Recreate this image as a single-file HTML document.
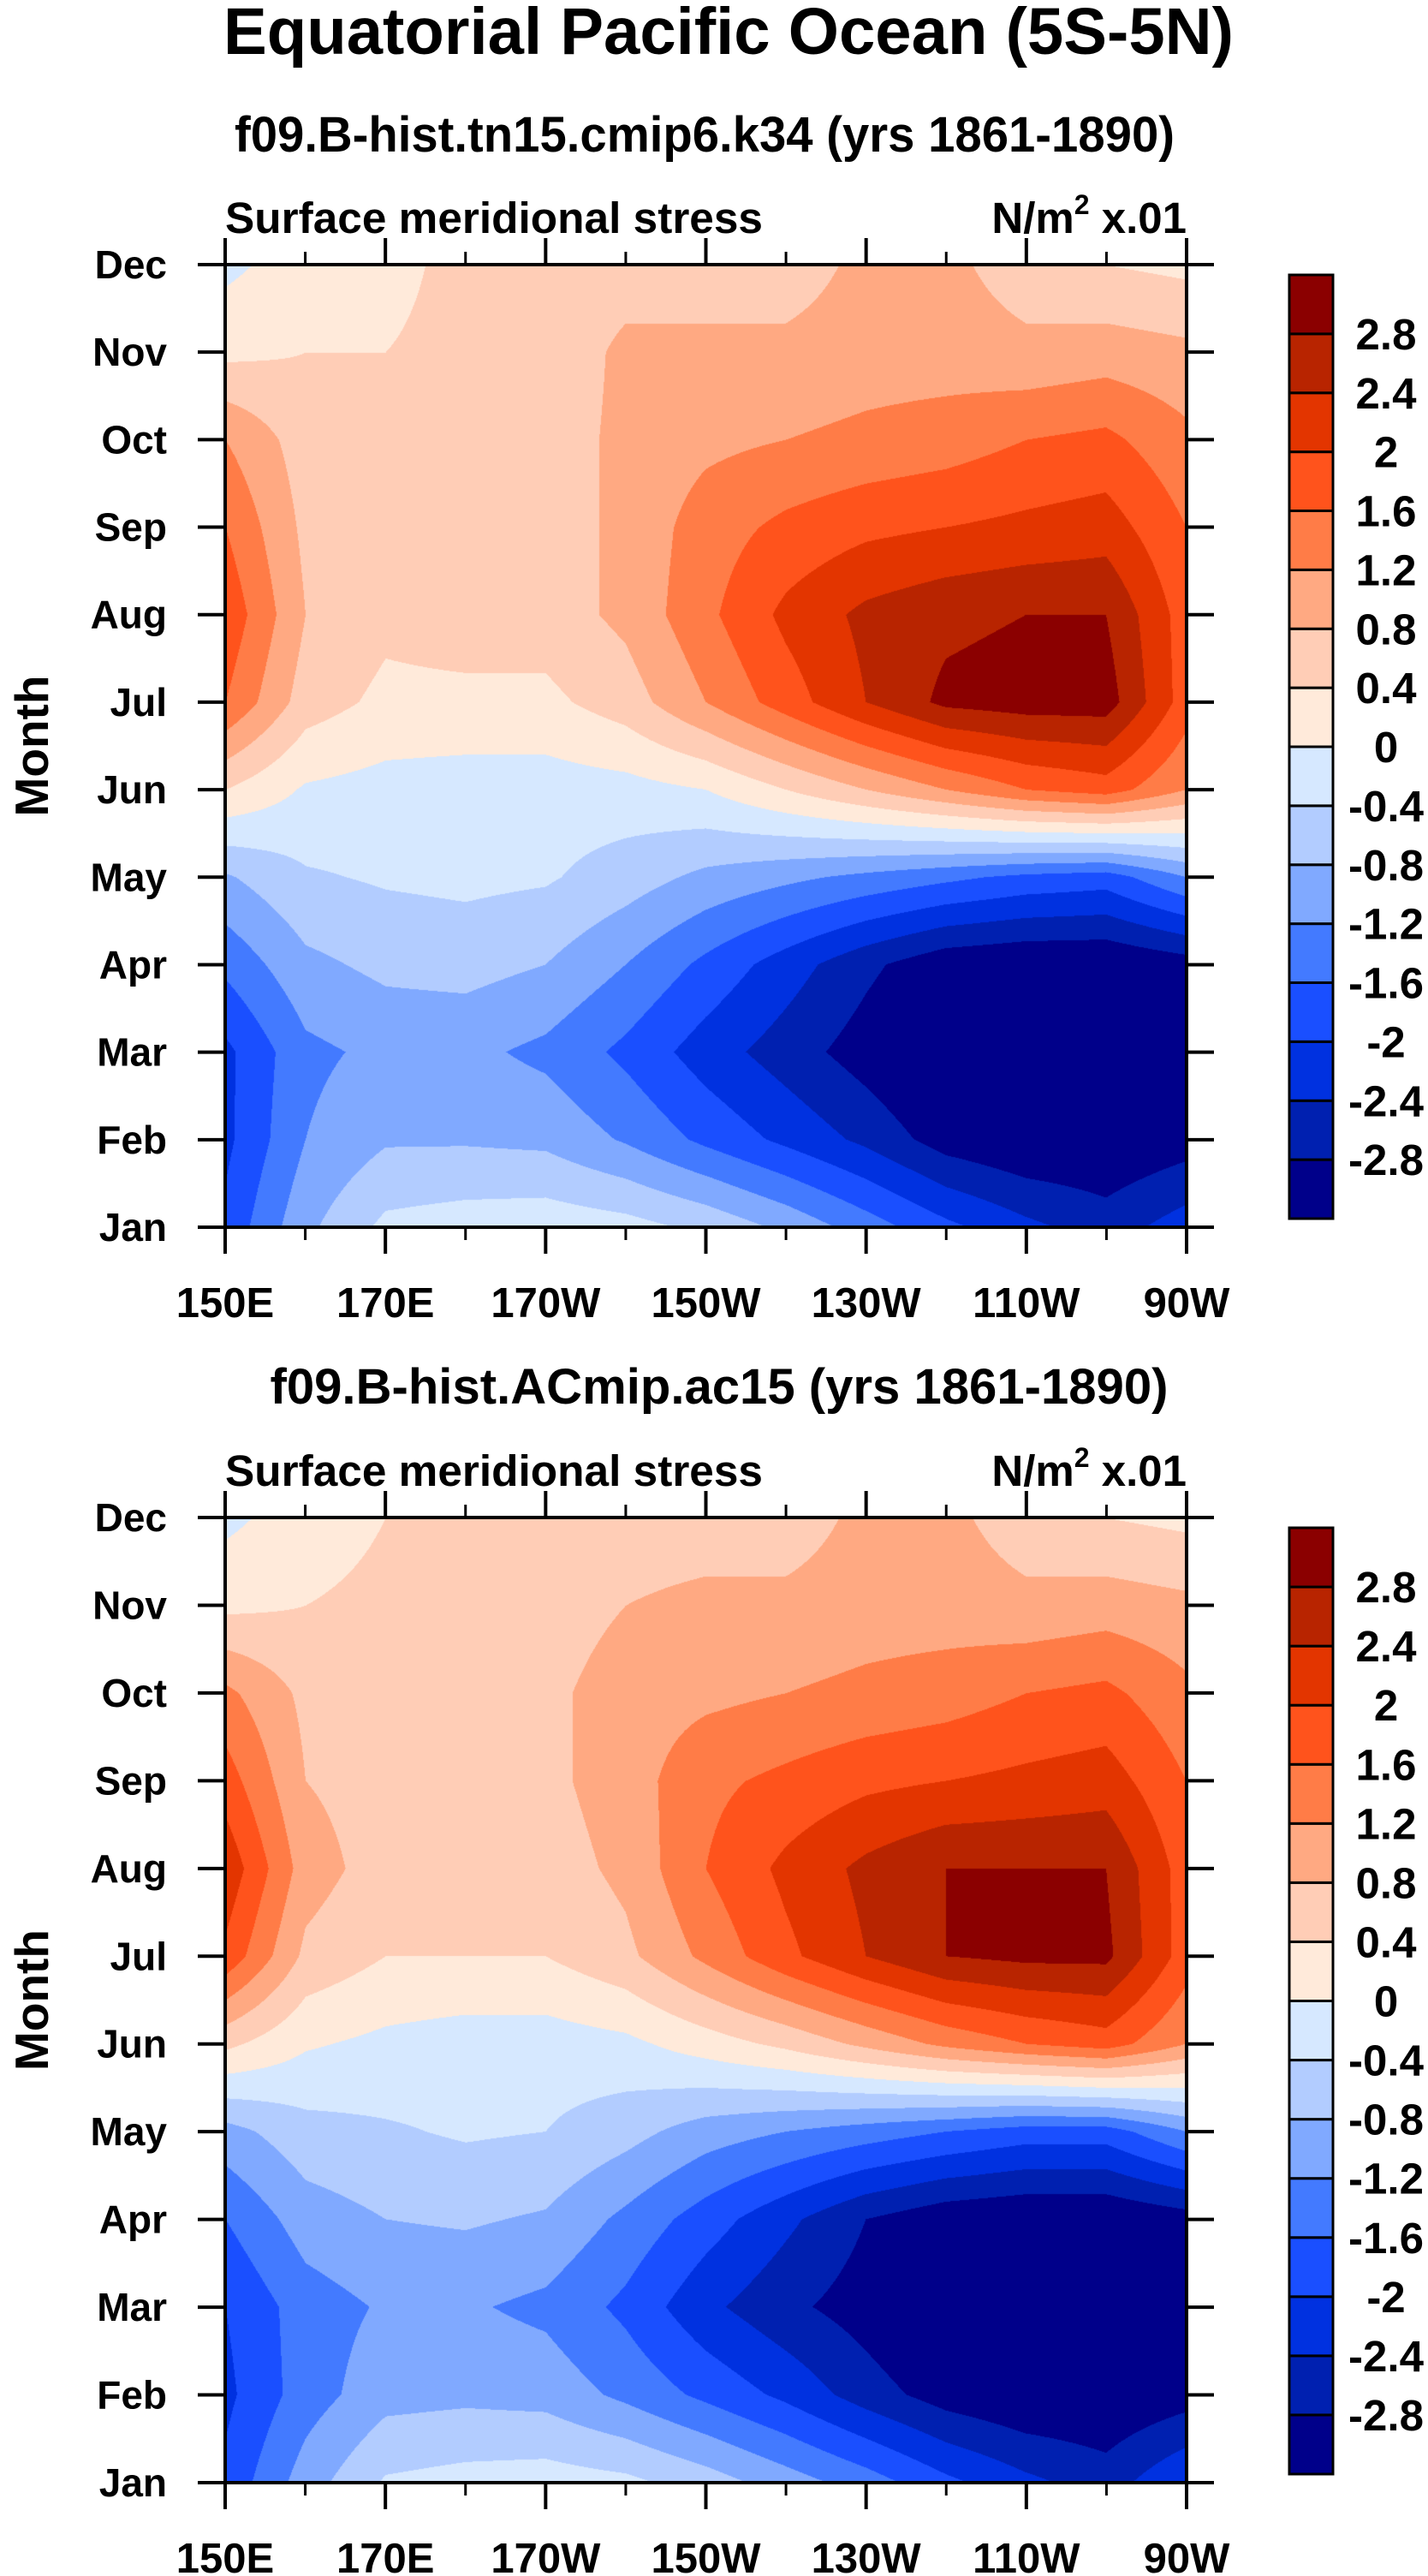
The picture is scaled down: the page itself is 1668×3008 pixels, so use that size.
<!DOCTYPE html>
<html><head><meta charset="utf-8"><style>
html,body{margin:0;padding:0;background:#fff;}
#root{position:relative;width:1668px;height:3008px;overflow:hidden;}
canvas{position:absolute;}
svg{position:absolute;left:0;top:0;}
</style></head><body>
<div id="root">
<canvas id="c1" width="1123" height="1124" style="left:263px;top:309px"></canvas>
<canvas id="c2" width="1123" height="1127" style="left:263px;top:1772px"></canvas>
<svg id="sv" width="1668" height="3008" font-family="'Liberation Sans', sans-serif" font-weight="bold">
<text x="851" y="63" font-size="77" text-anchor="middle" textLength="1180" lengthAdjust="spacingAndGlyphs">Equatorial Pacific Ocean (5S-5N)</text>
</svg>
</div>
<script>
const months = ["Jan","Feb","Mar","Apr","May","Jun","Jul","Aug","Sep","Oct","Nov","Dec"];
const lons = [150,160,170,180,190,200,210,220,230,240,250,260,270];
const xTickLabels = ["150E","170E","170W","150W","130W","110W","90W"];
const levels = [-2.8,-2.4,-2.0,-1.6,-1.2,-0.8,-0.4,0,0.4,0.8,1.2,1.6,2.0,2.4,2.8];
const levelLabels = ["-2.8","-2.4","-2","-1.6","-1.2","-0.8","-0.4","0","0.4","0.8","1.2","1.6","2","2.4","2.8"];
const colors = ["#00008a","#0020b0","#0031e0","#1a4fff","#437aff","#80a9ff","#b2ccff","#d6e8ff","#ffeada","#ffcdb6","#ffa982","#ff7c47","#ff531c","#e33500","#b82400","#8b0000"];
const data1 = [
[-1.9,-0.9,-0.3,-0.2,-0.15,-0.25,-0.5,-0.9,-1.4,-1.9,-2.3,-2.6,-2.2],
[-2.1,-1.2,-0.85,-0.85,-0.9,-1.25,-1.7,-2.1,-2.5,-3.0,-3.2,-3.2,-3.0],
[-2.1,-1.3,-1.1,-1.1,-1.3,-1.7,-2.2,-2.6,-3.0,-3.4,-3.5,-3.5,-3.2],
[-1.5,-0.9,-0.7,-0.65,-0.8,-1.2,-1.7,-2.2,-2.7,-3.1,-3.2,-3.2,-3.0],
[-0.85,-0.45,-0.35,-0.3,-0.35,-0.6,-0.9,-1.1,-1.3,-1.5,-1.7,-1.8,-1.2],
[0.4,-0.05,-0.15,-0.2,-0.2,-0.15,0.0,0.4,0.8,1.2,1.6,1.8,1.2],
[1.6,0.6,0.3,0.3,0.3,0.6,1.2,1.8,2.4,2.9,3.0,3.0,1.8],
[1.9,0.8,0.5,0.6,0.6,0.9,1.5,2.1,2.5,2.7,2.8,2.8,1.8],
[1.6,0.7,0.6,0.6,0.6,0.9,1.4,1.7,1.9,2.0,2.1,2.2,1.6],
[1.2,0.6,0.5,0.5,0.6,0.9,1.1,1.2,1.3,1.4,1.6,1.7,1.3],
[0.3,0.4,0.4,0.5,0.5,0.9,0.9,0.9,1.0,1.0,0.9,1.0,0.9],
[-0.1,0.2,0.3,0.5,0.5,0.6,0.6,0.6,0.9,0.9,0.6,0.4,0.3]];
const data2 = [
[-1.9,-1.0,-0.35,-0.25,-0.2,-0.3,-0.6,-1.0,-1.4,-1.9,-2.3,-2.6,-2.0],
[-2.1,-1.4,-0.95,-0.9,-0.95,-1.3,-1.7,-2.1,-2.6,-3.0,-3.2,-3.2,-3.0],
[-2.0,-1.4,-1.15,-1.15,-1.3,-1.7,-2.3,-2.7,-3.0,-3.4,-3.5,-3.5,-3.2],
[-1.6,-1.0,-0.8,-0.75,-0.85,-1.3,-1.8,-2.3,-2.8,-3.1,-3.2,-3.2,-3.0],
[-0.95,-0.55,-0.45,-0.35,-0.4,-0.65,-1.0,-1.2,-1.4,-1.6,-1.8,-1.8,-1.2],
[0.5,0.05,-0.1,-0.2,-0.2,-0.1,0.2,0.5,0.9,1.3,1.6,1.8,1.2],
[1.9,0.7,0.4,0.4,0.4,0.7,1.3,1.9,2.4,2.8,2.9,2.9,1.8],
[2.3,1.0,0.6,0.6,0.6,0.9,1.6,2.1,2.5,2.8,2.8,2.8,1.8],
[1.8,0.8,0.6,0.6,0.7,1.0,1.5,1.7,1.9,2.0,2.1,2.2,1.6],
[1.3,0.7,0.6,0.6,0.7,1.0,1.1,1.2,1.3,1.4,1.6,1.7,1.3],
[0.3,0.4,0.5,0.5,0.6,0.8,0.9,0.9,1.0,1.0,0.9,1.0,0.9],
[-0.1,0.2,0.4,0.5,0.6,0.6,0.6,0.6,0.9,0.9,0.6,0.4,0.3]];
const subtitles = ["f09.B-hist.tn15.cmip6.k34 (yrs 1861-1890)","f09.B-hist.ACmip.ac15 (yrs 1861-1890)"];

const NS="http://www.w3.org/2000/svg";
const sv=document.getElementById('sv');
function mk(tag,attrs,txt){const e=document.createElementNS(NS,tag);for(const k in attrs)e.setAttribute(k,attrs[k]);if(txt!==undefined)e.textContent=txt;sv.appendChild(e);return e;}
function hex(c){return [parseInt(c.substr(1,2),16),parseInt(c.substr(3,2),16),parseInt(c.substr(5,2),16)];}
const rgb=colors.map(hex);
function levelIndex(v){let i=0;while(i<levels.length&&v>=levels[i])i++;return i;}

const panels=[{data:data1,top:309,h:1124,cid:'c1'},{data:data2,top:1772,h:1127,cid:'c2'}];
const L=263,R=1386,W=R-L;
panels.forEach((p,pi)=>{
  const T=p.top,B=p.top+p.h;
  const xs=lon=>L+(lon-lons[0])/(lons[lons.length-1]-lons[0])*W;
  const ys=m=>B-m/(months.length-1)*p.h;
  const cv=document.getElementById(p.cid);const ctx=cv.getContext('2d');
  const img=ctx.createImageData(cv.width,cv.height);
  const nc=lons.length-1,nr=months.length-1;
  for(let py=0;py<cv.height;py++){
    const fm=(cv.height-1-py)/(cv.height-1)*nr;let r0=Math.min(Math.floor(fm),nr-1);const ty=fm-r0;
    for(let px=0;px<cv.width;px++){
      const fl=px/(cv.width-1)*nc;let c0=Math.min(Math.floor(fl),nc-1);const tx=fl-c0;
      const d=p.data;
      const v=(d[r0][c0]*(1-tx)+d[r0][c0+1]*tx)*(1-ty)+(d[r0+1][c0]*(1-tx)+d[r0+1][c0+1]*tx)*ty;
      const col=rgb[levelIndex(v)];const o=(py*cv.width+px)*4;
      img.data[o]=col[0];img.data[o+1]=col[1];img.data[o+2]=col[2];img.data[o+3]=255;
    }
  }
  ctx.putImageData(img,0,0);
  const st=mk('text',{x:pi?840:823,y:pi?1639:177,'font-size':58,'text-anchor':'middle',textLength:pi?1049:1098,lengthAdjust:'spacingAndGlyphs'},subtitles[pi]);
  
  
  const lt=mk('text',{x:263,y:T-37,'font-size':51,textLength:628,lengthAdjust:'spacingAndGlyphs'},'Surface meridional stress');
  
  
  const ut=mk('text',{x:1386,y:T-37,'font-size':51,'text-anchor':'end'});
  
  
  ut.innerHTML='N/m<tspan font-size="32" dy="-22">2</tspan><tspan dy="22"> x.01</tspan>';
  const fr=mk('rect',{x:L,y:T,width:W,height:p.h,fill:'none',stroke:'#000','stroke-width':4});
  
  
  months.forEach((m,i)=>{
    const y=ys(i);
    mk('line',{x1:L-32,x2:L,y1:y,y2:y,stroke:'#000','stroke-width':4});
    mk('line',{x1:R,x2:R+32,y1:y,y2:y,stroke:'#000','stroke-width':4});
    const t=mk('text',{x:195,y:y+16,'font-size':46,'text-anchor':'end'},m);
    
    
  });
  lons.forEach((lon,i)=>{
    const x=xs(lon),maj=i%2===0,len=maj?31:15;
    mk('line',{x1:x,x2:x,y1:T-len,y2:T,stroke:'#000','stroke-width':maj?4:3});
    mk('line',{x1:x,x2:x,y1:B,y2:B+len,stroke:'#000','stroke-width':maj?4:3});
    if(maj){
      const t=mk('text',{x:x,y:B+105,'font-size':49,'text-anchor':'middle'},xTickLabels[i/2]);
      
      
    }
  });
  const yl=mk('text',{x:0,y:0,'font-size':55,'text-anchor':'middle',transform:`translate(56,${(T+B)/2}) rotate(-90)`},'Month');
  
  
  const cbT=T+12,cbB=B-10,bh=(cbB-cbT)/colors.length;
  colors.forEach((c,k)=>{
    const y=cbB-(k+1)*bh;
    const r=mk('rect',{x:1506,y:y,width:51,height:bh,fill:c,stroke:'#000','stroke-width':3});
    
    
  });
  levelLabels.forEach((lb,k)=>{
    const y=cbB-(k+1)*bh;
    const t=mk('text',{x:1619,y:y+18,'font-size':51,'text-anchor':'middle'},lb);
    
    
  });
});
</script>
</body></html>
